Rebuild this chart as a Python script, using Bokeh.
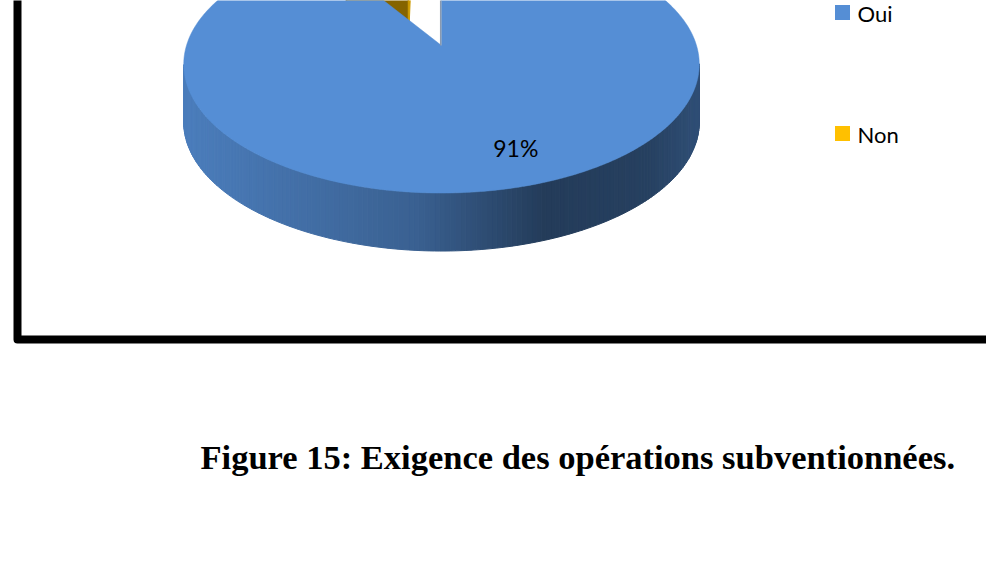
import numpy as np
from bokeh.plotting import figure
from bokeh.models import Range1d
from bokeh.core.properties import value
from bokeh.embed import file_html
from bokeh.resources import INLINE

# ---------------- data ----------------
categories = ["Oui", "Non"]
percent = [91, 9]
slice_colors = ["#558ED5", "#FFC000"]
explode = [0.0, 0.5]
caption = "Figure 15: Exigence des opérations subventionnées."

# ---------------- layout / style ----------------
W, H = 986, 573
X0, Y0 = 0, 0                      # data units == page pixels
CX, CY = 441.0, 45.0               # projected pie centre
A, B, K = 255.0, 126.0, 0.146      # ellipse half axes + perspective factor
DEPTH = 58.0
EYE = (0.0, -1.0 / K)
LABEL_R = 0.78
grad_pos = [0.0, 0.45, 0.70, 0.90, 1.0]
grad_f = [0.88, 0.68, 0.42, 0.45, 0.55]


def proj(u, v):
    u = np.asarray(u, float)
    v = np.asarray(v, float)
    w = 1.0 + K * v
    return CX + A * u / w, CY - B * v / w


def shade(hexc, f):
    h = hexc.lstrip("#")
    rgb = [int(h[i:i + 2], 16) for i in (0, 2, 4)]
    return "#%02x%02x%02x" % tuple(int(round(max(0, min(255, c * f)))) for c in rgb)


p = figure(width=W, height=H, x_range=Range1d(X0, X0 + W), y_range=Range1d(Y0 + H, Y0),
           output_backend="svg", toolbar_location=None, min_border=0,
           x_axis_location=None, y_axis_location=None, outline_line_color=None,
           background_fill_color="white", border_fill_color="white")
p.grid.visible = False
p.title.visible = False

# outer frame of the chart area
p.line(x=[17, 17, 1010], y=[-20, 339, 339], line_width=8, color="black", line_join="round")

# ---------------- pie geometry ----------------
total = float(sum(percent))
cum = np.concatenate([[0.0], np.cumsum(percent)]) / total * 360.0
slices = []
for i in range(len(percent)):
    ts = np.radians(90.0 - cum[i])
    te = np.radians(90.0 - cum[i + 1])
    tm = 0.5 * (ts + te)
    du, dv = explode[i] * np.cos(tm), explode[i] * np.sin(tm)
    slices.append(dict(i=i, ts=ts, te=te, tm=tm, du=du, dv=dv))

order = sorted(slices, key=lambda s: -s["dv"])

for s in order:
    base = slice_colors[s["i"]]
    du, dv, ts, te = s["du"], s["dv"], s["ts"], s["te"]
    fxs, fys, fcol = [], [], []
    edge_lines = []
    # radial faces
    for theta, sgn in ((ts, 1.0), (te, -1.0)):
        na = theta + sgn * np.pi / 2
        n = (np.cos(na), np.sin(na))
        P0 = (du, dv)
        P1 = (du + np.cos(theta), dv + np.sin(theta))
        M = (0.5 * (P0[0] + P1[0]), 0.5 * (P0[1] + P1[1]))
        dot = (EYE[0] - M[0]) * n[0] + (EYE[1] - M[1]) * n[1]
        if dot >= -1e-6:
            x0, y0 = proj(P0[0], P0[1])
            x1, y1 = proj(P1[0], P1[1])
            if abs(dot) < 1e-6:
                edge_lines.append(([float(x0) - 0.8, float(x1) - 0.8], [float(y0), float(y1)]))
                continue
            fxs.append([float(x0), float(x1), float(x1), float(x0)])
            fys.append([float(y0), float(y1), float(y1) + DEPTH, float(y0) + DEPTH])
            fcol.append(shade(base, 0.65 + 0.15 * np.cos(na)))
    # curved outer side
    nseg = max(8, int(abs(ts - te) / np.radians(1.0)))
    tt = np.linspace(ts, te, nseg + 1)
    for a0, a1 in zip(tt[:-1], tt[1:]):
        am = 0.5 * (a0 + a1)
        P = (du + np.cos(am), dv + np.sin(am))
        dot = (EYE[0] - P[0]) * np.cos(am) + (EYE[1] - P[1]) * np.sin(am)
        if dot <= 0:
            continue
        xa, ya = proj(du + np.cos(a0), dv + np.sin(a0))
        xb, yb = proj(du + np.cos(a1), dv + np.sin(a1))
        xm = 0.5 * (xa + xb)
        frac = (xm - (CX - A)) / (2 * A)
        f = float(np.interp(frac, grad_pos, grad_f))
        fxs.append([float(xa), float(xb), float(xb), float(xa)])
        fys.append([float(ya), float(yb), float(yb) + DEPTH, float(ya) + DEPTH])
        fcol.append(shade(base, f))
    if fxs:
        p.patches(xs=fxs, ys=fys, fill_color=fcol, line_color=fcol, line_width=1)
    # top face
    arc = np.linspace(ts, te, 400)
    ax, ay = proj(du + np.cos(arc), dv + np.sin(arc))
    vx, vy = proj(du, dv)
    p.patch(x=np.concatenate([[vx], ax, [vx]]), y=np.concatenate([[vy], ay, [vy]]),
            fill_color=base, line_color=base, line_width=0.5)
    # faces seen exactly edge-on: thin grey edge
    for ex, ey in edge_lines:
        p.line(x=ex, y=ey, line_color="#8a9ab0", line_width=1.5)

# data labels
for s in slices:
    lx, ly = proj(s["du"] + LABEL_R * np.cos(s["tm"]), s["dv"] + LABEL_R * np.sin(s["tm"]))
    if Y0 + 10 < ly < Y0 + H:
        p.text(x=[float(lx)], y=[float(ly)], text=["%d%%" % percent[s["i"]]],
               x_offset=12, y_offset=-3,
               text_font=value("Lato"), text_font_size="23px", text_color="black",
               text_align="center", text_baseline="middle")

# legend
LEG_SQ_X, LEG_SQ_Y, LEG_STEP, SQ = 842, 12, 121, 15
ly_list = [LEG_SQ_Y + k * LEG_STEP for k in range(len(categories))]
p.rect(x=[LEG_SQ_X] * len(categories), y=ly_list, width=SQ, height=SQ,
       fill_color=slice_colors, line_color=None)
p.text(x=[LEG_SQ_X + 15] * len(categories), y=[y + 0.5 for y in ly_list], text=categories,
       text_font=value("Lato"), text_font_size="22px", text_color="black",
       text_align="left", text_baseline="middle")

# caption
p.text(x=[200], y=[456], text=[caption], text_font=value("Liberation Serif"),
       text_font_style="bold", text_font_size="34.5px", text_color="black",
       text_align="left", text_baseline="middle")

open("out.html", "w").write(file_html(p, INLINE))
